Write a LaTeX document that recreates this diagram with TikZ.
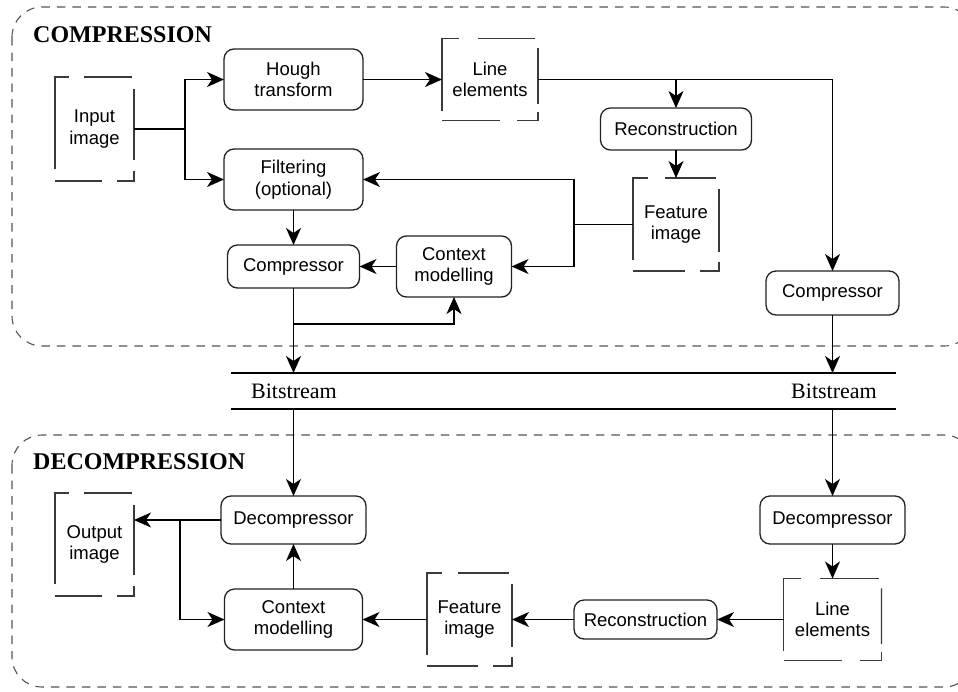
\documentclass[tikz,border=0pt]{standalone}
\usepackage{fontspec}
\setmainfont{Liberation Sans}
\newfontfamily\headserif{Liberation Serif}
\usetikzlibrary{arrows.meta,calc}
\definecolor{boxline}{HTML}{222222}
\definecolor{dataline}{HTML}{3A3A3A}
\definecolor{outerline}{HTML}{555555}
\newcommand\databox[1]{%
  \draw[dline] ($(#1.north west)!0.88!(#1.south west)$) -- (#1.north west) -- ($(#1.north west)!0.18!(#1.north east)$);
  \draw[dline] ($(#1.north west)!0.37!(#1.north east)$) -- ($(#1.north west)!0.97!(#1.north east)$);
  \draw[dline] ($(#1.north east)!0.12!(#1.south east)$) -- ($(#1.north east)!0.80!(#1.south east)$);
  \draw[dline] ($(#1.north east)!0.90!(#1.south east)$) -- (#1.south east) -- ($(#1.south west)!0.78!(#1.south east)$);
  \draw[dline] ($(#1.south west)!0.60!(#1.south east)$) -- (#1.south west);
}
\tikzset{
  rbox/.style={draw=boxline, line width=1.3pt, rounded corners=10pt, align=center,
    inner sep=0pt, outer sep=0pt, font=\fontsize{18.5}{21.5}\selectfont},
  dnode/.style={draw=none, align=center, inner sep=0pt, outer sep=0pt,
    font=\fontsize{18.5}{21.5}\selectfont},
  dline/.style={draw=dataline, line width=1.15pt},
  conn/.style={draw=black, line width=1.3pt},
  arr/.style={conn, -{Stealth[length=17pt,width=15pt,inset=5pt]}},
  outerbox/.style={draw=outerline, line width=1.1pt, dash pattern=on 8.5pt off 7pt, rounded corners=30pt},
  head/.style={font=\headserif\bfseries\fontsize{24}{28}\selectfont, anchor=base west, inner sep=0pt},
  bstext/.style={font=\headserif\fontsize{22}{26}\selectfont, anchor=base west, inner sep=0pt},
}
\begin{document}
\begin{tikzpicture}[x=1pt,y=-1pt]
\clip (0,0) rectangle (958,691);
\fill[white] (0,0) rectangle (958,691);

% outer regions
\draw[outerbox] (12,7) rectangle (974,346);
\draw[outerbox] (12,435) rectangle (974,687);
\node[head] (hc) at (33,42) {COMPRESSION};
\node[head] (hd) at (33,469) {DECOMPRESSION};

% compression nodes
\node[dnode, minimum width=79pt, minimum height=104pt] (in) at (94.5,129) {Input\\image};
\node[rbox, minimum width=139pt, minimum height=61pt] (hough) at (293.5,79.5) {Hough\\transform};
\node[rbox, minimum width=139pt, minimum height=61pt] (filt) at (293.5,179.5) {Filtering\\(optional)};
\node[dnode, minimum width=96pt, minimum height=82pt] (line1) at (490,79.5) {Line\\elements};
\node[rbox, minimum width=151pt, minimum height=42pt] (rec1) at (676,129) {Reconstruction};
\node[dnode, minimum width=86pt, minimum height=93pt] (feat1) at (676,224.5) {Feature\\image};
\node[rbox, minimum width=115pt, minimum height=61pt] (ctx1) at (454,266.5) {Context\\modelling};
\node[rbox, minimum width=132pt, minimum height=43pt] (comp1) at (293.5,266.5) {Compressor};
\node[rbox, minimum width=133pt, minimum height=44pt] (comp2) at (832.5,293) {Compressor};

% bitstream
\coordinate (bsTL) at (231,373);
\coordinate (bsTR) at (896,373);
\coordinate (bsBL) at (231,409);
\coordinate (bsBR) at (896,409);
\draw[conn] (bsTL) -- (bsTR);
\draw[conn] (bsBL) -- (bsBR);
\node[bstext] (bs1) at (251,398) {Bitstream};
\node[bstext] (bs2) at (791,398) {Bitstream};

% decompression nodes
\node[rbox, minimum width=145pt, minimum height=48pt] (dec1) at (293.5,520) {Decompressor};
\node[dnode, minimum width=79pt, minimum height=103pt] (out) at (94.5,544.5) {Output\\image};
\node[rbox, minimum width=138pt, minimum height=61pt] (ctx2) at (293.5,619.5) {Context\\modelling};
\node[dnode, minimum width=85pt, minimum height=93pt] (feat2) at (469.5,619.5) {Feature\\image};
\node[rbox, minimum width=143pt, minimum height=39pt] (rec2) at (645.5,619.5) {Reconstruction};
\node[rbox, minimum width=145pt, minimum height=48pt] (dec2) at (832.5,520) {Decompressor};
\node[dnode, minimum width=98pt, minimum height=82pt] (line2) at (832.5,619.5) {Line\\elements};

\databox{in}
\databox{line1}
\databox{feat1}
\databox{out}
\databox{feat2}
\databox{line2}

% compression connectors
\coordinate (j1) at (185,129);
\draw[conn] (in.east) -- (j1);
\draw[arr] (j1) |- (hough.west);
\draw[arr] (j1) |- (filt.west);
\draw[arr] (hough.east) -- (line1.west);
\draw[arr] (line1.east) -| (comp2.north);
\draw[arr] (line1.east -| rec1.north) -- (rec1.north);
\draw[arr] (rec1.south) -- (feat1.north);
\coordinate (j2) at (574,224.5);
\draw[conn] (feat1.west) -- (j2);
\draw[arr] (j2) |- (filt.east);
\draw[arr] (j2) |- (ctx1.east);
\draw[arr] (filt.south) -- (comp1.north);
\draw[arr] (ctx1.west) -- (comp1.east);
\draw[arr] (comp1.south) -- (comp1.south |- bsTL);
\coordinate (j3) at (293.5,324);
\draw[arr] (j3) -| (ctx1.south);
\draw[arr] (comp2.south) -- (comp2.south |- bsTL);

% decompression connectors
\draw[arr] (bsBL -| dec1.north) -- (dec1.north);
\draw[arr] (bsBL -| dec2.north) -- (dec2.north);
\draw[arr] (dec2.south) -- (line2.north);
\draw[arr] (line2.west) -- (rec2.east);
\draw[arr] (rec2.west) -- (feat2.east);
\draw[arr] (feat2.west) -- (ctx2.east);
\draw[arr] (ctx2.north) -- (dec1.south);
\draw[arr] (dec1.west) -- (dec1.west -| out.east);
\coordinate (j4) at (180,520);
\draw[arr] (j4) |- (ctx2.west);
\end{tikzpicture}
\end{document}
